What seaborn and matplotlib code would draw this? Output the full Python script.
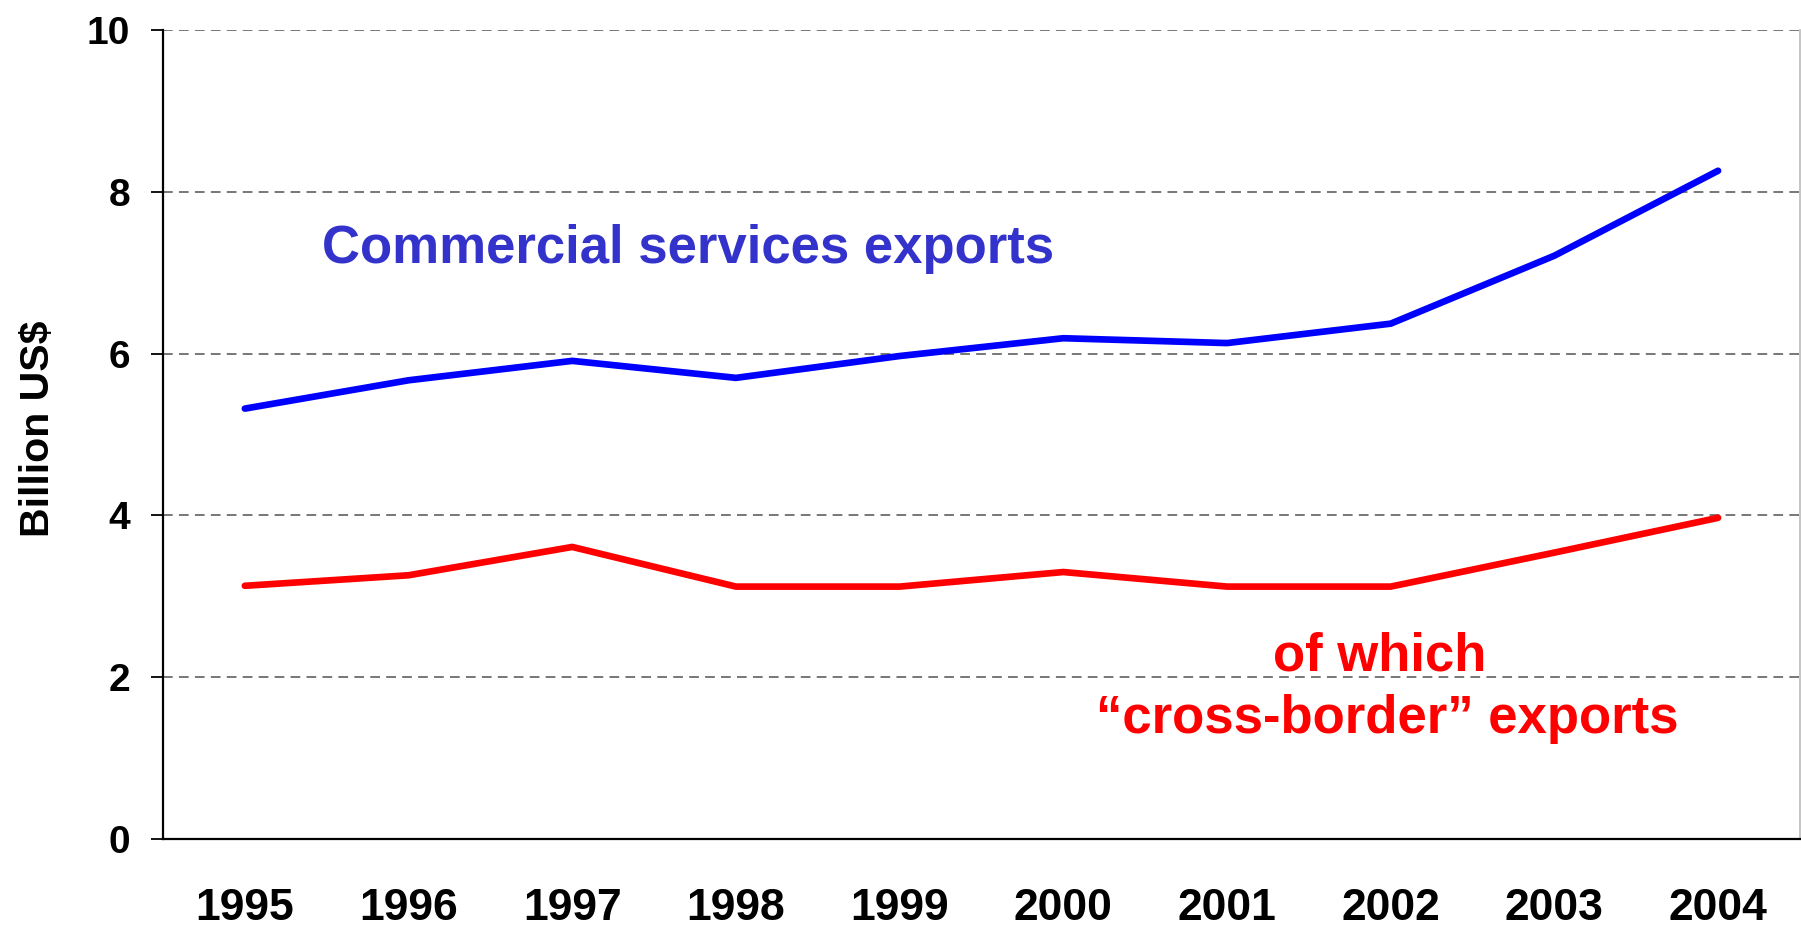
import numpy as np
import matplotlib
matplotlib.use("Agg")
import matplotlib.pyplot as plt
import pandas as pd
import seaborn as sns

# Values (billion US$)
years = ["1995", "1996", "1997", "1998", "1999", "2000", "2001", "2002", "2003", "2004"]
commercial = [5.32, 5.67, 5.91, 5.70, 5.97, 6.19, 6.13, 6.37, 7.21, 8.26]
cross_border = [3.13, 3.26, 3.61, 3.12, 3.12, 3.30, 3.12, 3.12, 3.54, 3.97]
y_ticks = [0, 2, 4, 6, 8, 10]

df = pd.DataFrame({"Year": years, "Commercial": commercial, "CrossBorder": cross_border})

sns.set_style("white")
plt.rcParams["font.family"] = ["Liberation Sans", "DejaVu Sans"]
plt.rcParams["font.weight"] = "bold"
plt.rcParams["text.color"] = "black"
plt.rcParams["xtick.color"] = "black"
plt.rcParams["ytick.color"] = "black"
plt.rcParams["axes.labelcolor"] = "black"

fig = plt.figure(figsize=(18.01, 9.34), dpi=100)
ax = fig.add_axes([0.0905, 0.1017, 0.9089, 0.8662])

# the two series
sns.lineplot(data=df, x="Year", y="Commercial", ax=ax, color="#0000FF",
             linewidth=4.8, sort=False, solid_capstyle="round")
sns.lineplot(data=df, x="Year", y="CrossBorder", ax=ax, color="#FF0000",
             linewidth=4.8, sort=False, solid_capstyle="round")

ax.set_xlim(-0.5, len(years) - 0.5)
ax.set_ylim(0, 10)
ax.set_yticks(y_ticks)
ax.set_yticklabels([str(t) for t in y_ticks], fontsize=28, fontweight="bold")
ax.set_xticks(range(len(years)))
ax.set_xticklabels(years, fontsize=32, fontweight="bold")
ax.tick_params(axis="y", direction="out", length=8.6, width=1.3, color="black", pad=15, left=True)
ax.tick_params(axis="x", length=0, pad=35)

# dashed horizontal gridlines
ax.yaxis.grid(True, color="#777777", linestyle=(0, (5.0, 3.2)), linewidth=1.4)
ax.xaxis.grid(False)
ax.set_axisbelow(True)

# spines
ax.spines["left"].set_color("black")
ax.spines["left"].set_linewidth(1.6)
ax.spines["bottom"].set_color("black")
ax.spines["bottom"].set_linewidth(1.6)
ax.spines["top"].set_visible(False)
ax.spines["right"].set_color("#BBBBBB")
ax.spines["right"].set_linewidth(1.2)

ax.set_xlabel("")
ax.set_ylabel("Billion US$", fontsize=29.5, fontweight="bold")
ax.yaxis.set_label_coords(-0.0648, 0.507)

# series annotations
ax.text(0.47, 7.12, "Commercial services exports", color="#3333CC",
        fontsize=38, fontweight="bold", ha="left", va="baseline")
ax.text(6.93, 2.08, "of which", color="#FF0000",
        fontsize=38, fontweight="bold", ha="center", va="baseline")
ax.text(6.98, 1.31, "\u201ccross-border\u201d exports", color="#FF0000",
        fontsize=38, fontweight="bold", ha="center", va="baseline")

fig.savefig("out.png", dpi=100)
